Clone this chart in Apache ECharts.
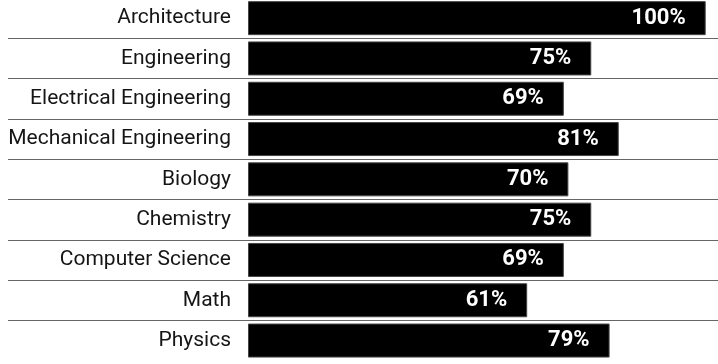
<!DOCTYPE html>
<html>
<head>
<meta charset="utf-8">
<script src="https://cdn.jsdelivr.net/npm/echarts@6/dist/echarts.min.js"></script>
<style>
  html, body { margin: 0; padding: 0; background: #fff; }
  #chart { width: 718px; height: 364px; }
</style>
</head>
<body>
<div id="chart"></div>
<script>
// Share of students by field of study
const categories = [
  'Architecture',
  'Engineering',
  'Electrical Engineering',
  'Mechanical Engineering',
  'Biology',
  'Chemistry',
  'Computer Science',
  'Math',
  'Physics'
];
const values = [100, 75, 69, 81, 70, 75, 69, 61, 79];

const FONT = 'Roboto, "DejaVu Sans Condensed", sans-serif';
const TOP = -2;
const ROW = 40.3;
const rows = categories.length;

const chart = echarts.init(document.getElementById('chart'), null, { renderer: 'canvas' });

chart.setOption({
  animation: false,
  backgroundColor: '#ffffff',
  grid: [
    // row separators, one between each pair of rows
    { left: 8, right: 0, top: TOP + ROW, height: ROW * (rows - 2), outerBoundsMode: 'none' },
    // bars
    { left: 248, right: 12.3, top: TOP, height: ROW * rows, outerBoundsMode: 'none' }
  ],
  xAxis: [
    { gridIndex: 0, type: 'value', min: 0, max: 1, show: false },
    { gridIndex: 1, type: 'value', min: 0, max: 100, show: false }
  ],
  yAxis: [
    {
      gridIndex: 0, type: 'value', min: 1, max: rows - 1, interval: 1, inverse: true,
      axisLine: { show: false }, axisTick: { show: false }, axisLabel: { show: false },
      splitLine: { show: true, lineStyle: { color: '#666666', width: 1 } }
    },
    {
      gridIndex: 1, type: 'category', data: categories, inverse: true,
      axisLine: { show: false }, axisTick: { show: false }, splitLine: { show: false },
      axisLabel: {
        margin: 17, color: '#151515', fontFamily: FONT, fontSize: 21
      }
    }
  ],
  series: [
    {
      type: 'bar',
      xAxisIndex: 1,
      yAxisIndex: 1,
      data: values,
      barWidth: 34,
      itemStyle: { color: '#000000', borderColor: '#444444', borderWidth: 1 },
      label: {
        show: true,
        position: 'insideRight',
        distance: 20,
        formatter: '{c}%',
        color: '#ffffff',
        fontFamily: FONT,
        fontWeight: 'bold',
        fontSize: 22
      },
      silent: true
    }
  ]
});
</script>
</body>
</html>
